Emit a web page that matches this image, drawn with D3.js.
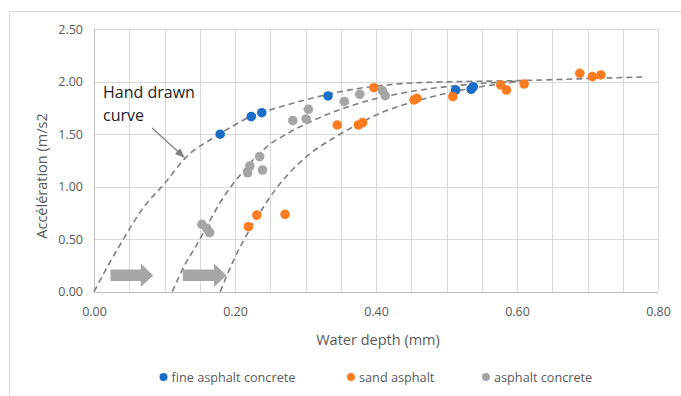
<!DOCTYPE html>
<html>
<head>
<meta charset="utf-8">
<script src="https://cdn.jsdelivr.net/npm/d3@7/dist/d3.min.js"></script>
<style>
  html, body { margin: 0; padding: 0; background: #fff; }
  svg { display: block; }
  text { font-family: "Open Sans", "Noto Sans", sans-serif; }
</style>
</head>
<body>
<div id="chart"></div>
<script>
// Measured points: water depth (mm) vs acceleration (m/s2)
const fineX = [0.179, 0.223, 0.238, 0.332, 0.513, 0.535, 0.538];
const fineY = [1.50, 1.667, 1.705, 1.864, 1.921, 1.928, 1.952];

const sandX = [0.219, 0.231, 0.271, 0.345, 0.375, 0.381, 0.397, 0.454, 0.458, 0.509, 0.577, 0.585, 0.610, 0.689, 0.707, 0.719];
const sandY = [0.619, 0.730, 0.737, 1.588, 1.588, 1.610, 1.943, 1.826, 1.842, 1.857, 1.969, 1.921, 1.978, 2.080, 2.048, 2.064];

const acX = [0.153, 0.160, 0.164, 0.218, 0.221, 0.235, 0.239, 0.282, 0.301, 0.304, 0.355, 0.377, 0.409, 0.413];
const acY = [0.642, 0.604, 0.562, 1.133, 1.197, 1.286, 1.159, 1.629, 1.645, 1.737, 1.810, 1.880, 1.914, 1.867];

// Hand drawn trend curves, sampled along each stroke
const curve1X = [0.000, 0.020, 0.039, 0.070, 0.100, 0.129, 0.178, 0.223, 0.254, 0.302, 0.349, 0.396, 0.444, 0.510, 0.600, 0.700, 0.779];
const curve1Y = [0.000, 0.250, 0.470, 0.800, 1.030, 1.270, 1.500, 1.670, 1.740, 1.830, 1.905, 1.955, 1.985, 2.000, 2.010, 2.030, 2.045];
const curve2X = [0.111, 0.130, 0.146, 0.163, 0.179, 0.212, 0.245, 0.278, 0.311, 0.349, 0.396, 0.444, 0.510, 0.600];
const curve2Y = [0.000, 0.270, 0.450, 0.660, 0.850, 1.150, 1.380, 1.520, 1.630, 1.735, 1.832, 1.900, 1.960, 2.005];
const curve3X = [0.179, 0.198, 0.226, 0.264, 0.302, 0.344, 0.373, 0.406, 0.444, 0.510, 0.600];
const curve3Y = [0.000, 0.300, 0.650, 1.030, 1.290, 1.480, 1.590, 1.700, 1.790, 1.905, 2.000];

const yTicks = [0, 0.5, 1.0, 1.5, 2.0, 2.5];
const xTicks = [0, 0.2, 0.4, 0.6, 0.8];
const seriesNames = ["fine asphalt concrete", "sand asphalt", "asphalt concrete"];
const seriesColors = ["#1a6ec8", "#fd7b21", "#a5a5a5"];

const W = 681, H = 396;
const svg = d3.select("#chart").append("svg").attr("width", W).attr("height", H);

// outer chart frame
svg.append("rect").attr("x", 9.5).attr("y", 11.5).attr("width", W + 10).attr("height", H + 10)
  .attr("fill", "none").attr("stroke", "#d9d9d9").attr("stroke-width", 1);

const x = d3.scaleLinear().domain([0, 0.8]).range([94, 658]);
const y = d3.scaleLinear().domain([0, 2.5]).range([291.7, 29.2]);

// vertical gridlines every 0.05
const vGrid = d3.range(0, 17).map(i => i * 0.05);
svg.append("g").selectAll("line").data(vGrid).join("line")
  .attr("x1", d => Math.round(x(d)) + 0.5).attr("x2", d => Math.round(x(d)) + 0.5)
  .attr("y1", y(2.5)).attr("y2", y(0))
  .attr("stroke", "#d9d9d9").attr("stroke-width", 1);
// horizontal gridlines
svg.append("g").selectAll("line").data(yTicks).join("line")
  .attr("x1", x(0)).attr("x2", x(0.8))
  .attr("y1", d => Math.round(y(d)) + 0.5).attr("y2", d => Math.round(y(d)) + 0.5)
  .attr("stroke", d => d === 0 ? "#bfbfbf" : "#d9d9d9").attr("stroke-width", 1);
// left axis line
svg.append("line").attr("x1", Math.round(x(0)) + 0.5).attr("x2", Math.round(x(0)) + 0.5)
  .attr("y1", y(2.5)).attr("y2", y(0)).attr("stroke", "#bfbfbf");

// tick labels
const yAxis = d3.axisLeft(y).tickValues(yTicks).tickFormat(d3.format(".2f")).tickSize(0).tickPadding(11);
const gy = svg.append("g").attr("transform", `translate(${x(0)},0)`).call(yAxis);
gy.select(".domain").remove();
gy.selectAll("text").attr("fill", "#595959").style("font-size", "12.5px");

const xAxis = d3.axisBottom(x).tickValues(xTicks).tickFormat(d3.format(".2f")).tickSize(0).tickPadding(15);
const gx = svg.append("g").attr("transform", `translate(0,${y(0)})`).call(xAxis);
gx.select(".domain").remove();
gx.selectAll("text").attr("fill", "#595959").style("font-size", "12.5px");

// axis titles
svg.append("text").attr("x", 378).attr("y", 345).attr("text-anchor", "middle")
  .attr("fill", "#595959").style("font-size", "14.5px").text("Water depth (mm)");
svg.append("text").attr("transform", "translate(47,176) rotate(-90)").attr("text-anchor", "middle")
  .attr("fill", "#595959").style("font-size", "14.5px").text("Accélération (m/s2");

// block arrows marking the shift of the curves
function blockArrow(x0, x1, yc) {
  const X0 = x(x0), X1 = x(x1), Y = y(yc);
  const headStart = X1 - 12.5;
  const p = [[X0, Y - 6], [headStart, Y - 6], [headStart, Y - 12], [X1, Y], [headStart, Y + 11.5],
             [headStart, Y + 5.5], [X0, Y + 5.5]];
  svg.append("path").attr("d", "M" + p.join("L") + "Z").attr("fill", "#a6a6a6");
}
blockArrow(0.0235, 0.084, 0.155);
blockArrow(0.126, 0.188, 0.155);

// dashed curves
const line = d3.line().x(d => x(d[0])).y(d => y(d[1])).curve(d3.curveMonotoneX);
[[curve1X, curve1Y], [curve2X, curve2Y], [curve3X, curve3Y]].forEach(([cx, cy]) => {
  svg.append("path").datum(cx.map((v, i) => [v, cy[i]])).attr("d", line)
    .attr("fill", "none").attr("stroke", "#7f7f7f").attr("stroke-width", 1.6)
    .attr("stroke-dasharray", "6,4");
});

// annotation
svg.append("text").attr("x", 103).attr("y", 98).attr("fill", "#222").style("font-size", "16px").text("Hand drawn");
svg.append("text").attr("x", 103).attr("y", 121).attr("fill", "#222").style("font-size", "16px").text("curve");
svg.append("defs").append("marker").attr("id", "ah").attr("viewBox", "0 0 10 10")
  .attr("refX", 9).attr("refY", 5).attr("markerWidth", 8).attr("markerHeight", 8).attr("orient", "auto")
  .append("path").attr("d", "M0,1L10,5L0,9Z").attr("fill", "#7f7f7f");
svg.append("line").attr("x1", 152).attr("y1", 128).attr("x2", 184).attr("y2", 157)
  .attr("stroke", "#7f7f7f").attr("stroke-width", 1.2).attr("marker-end", "url(#ah)");

// scatter points
const series = [[fineX, fineY], [sandX, sandY], [acX, acY]];
series.forEach(([sx, sy], k) => {
  svg.append("g").selectAll("circle").data(sx.map((v, i) => [v, sy[i]])).join("circle")
    .attr("cx", d => x(d[0])).attr("cy", d => y(d[1])).attr("r", 4.8)
    .attr("fill", seriesColors[k]);
});

// legend
const legendX = [163.5, 351, 486];
seriesNames.forEach((name, k) => {
  svg.append("circle").attr("cx", legendX[k]).attr("cy", 377).attr("r", 4).attr("fill", seriesColors[k]);
  svg.append("text").attr("x", legendX[k] + 8).attr("y", 381.5).attr("fill", "#595959")
    .style("font-size", "12.7px").text(name);
});
</script>
</body>
</html>
